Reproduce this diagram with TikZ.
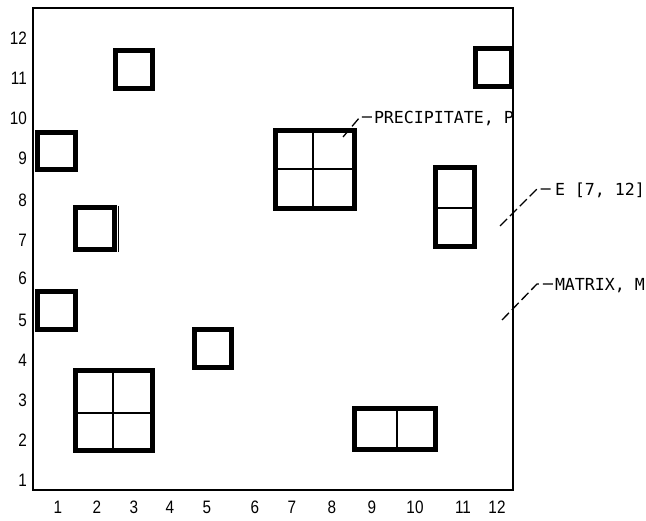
\documentclass[tikz,border=0pt]{standalone}
\usepackage{fontspec}
\setmainfont{Liberation Sans}
\setmonofont{DejaVu Sans Mono}
\newfontfamily\cifre[FakeStretch=0.85]{Liberation Sans}

\begin{document}
\begin{tikzpicture}[
        x=1pt, y=-1pt,
        % Stile per il contorno della matrice
        cornice/.style={draw=black, line width=2pt},
        % Stile per i grani di precipitato (bordo spesso)
        grano/.style={draw=black, line width=5pt},
        % Stile per le suddivisioni interne dei grani
        divisione/.style={draw=black, line width=1.2pt},
        % Stile per i numeri degli assi
        tacca/.style={font=\cifre\fontsize{18}{18}\selectfont, inner sep=0pt},
        % Stile per le etichette a destra
        etichetta/.style={anchor=west, font=\ttfamily\fontsize{16.6}{17}\selectfont, inner sep=0pt, outer sep=2pt, text depth=0pt},
        % Stile per le linee di richiamo
        richiamo/.style={draw=black, line width=1.3pt, dash pattern=on 10pt off 4pt}
    ]

        \useasboundingbox (0,0) rectangle (646,521);

        % --- CONTORNO ---
        \draw[cornice] (33,8) rectangle (513,490);

        % --- NUMERI DEGLI ASSI ---
        \foreach \n/\xp in {1/58,2/97,3/134,4/170,5/207,6/255,7/292,8/332,9/372,10/415,11/463,12/497}
            \node[tacca] (x\n) at (\xp,507) {\n};
        \foreach \n/\yp in {1/480,2/440,3/400,4/360,5/320,6/278,7/240,8/200,9/158,10/118,11/78,12/38}
            \node[tacca, anchor=east] (y\n) at (27,\yp) {\n};

        % --- GRANI SINGOLI ---
        \draw[grano] (115,51) rectangle (152,89);
        \draw[grano] (37,133) rectangle (75,170);
        \draw[grano] (75,208) rectangle (114,250);
        \draw[divisione] (118.5,206) -- (118.5,252);
        \draw[grano] (37,292) rectangle (75,330);
        \draw[grano] (194,330) rectangle (231,368);
        \draw[grano] (475,49) rectangle (511,87);

        % --- GRANI DIVISI ---
        % Quadrato 2x2 in basso a sinistra
        \draw[grano] (75,371) rectangle (152,451);
        \draw[divisione] (113,371) -- (113,451) (75,413) -- (152,413);
        % Quadrato 2x2 al centro
        \draw[grano] (275,131) rectangle (354,209);
        \draw[divisione] (313,131) -- (313,209) (275,169) -- (354,169);
        % Rettangolo verticale a destra
        \draw[grano] (435,168) rectangle (474,247);
        \draw[divisione] (435,208) -- (474,208);
        % Rettangolo orizzontale in basso
        \draw[grano] (354,409) rectangle (435,450);
        \draw[divisione] (397,409) -- (397,450);

        % --- ETICHETTE ---
        \node[etichetta] (lblP) at (372,117) {PRECIPITATE, P};
        \node[etichetta] (lblE) at (553,189) {E [7, 12]};
        \node[etichetta] (lblM) at (553,284) {MATRIX, M};

        % --- RICHIAMI ---
        \coordinate (pP) at (343,137);
        \coordinate (kP) at (360,117);
        \coordinate (pE) at (500,226);
        \coordinate (kE) at (537,189);
        \coordinate (pM) at (502,320);
        \coordinate (kM) at (537,284);
        \draw[richiamo] (pP) -- (kP) -- (lblP.west);
        \draw[richiamo] (pE) -- (kE) -- (lblE.west);
        \draw[richiamo] (pM) -- (kM) -- (lblM.west);

    \end{tikzpicture}
\end{document}
